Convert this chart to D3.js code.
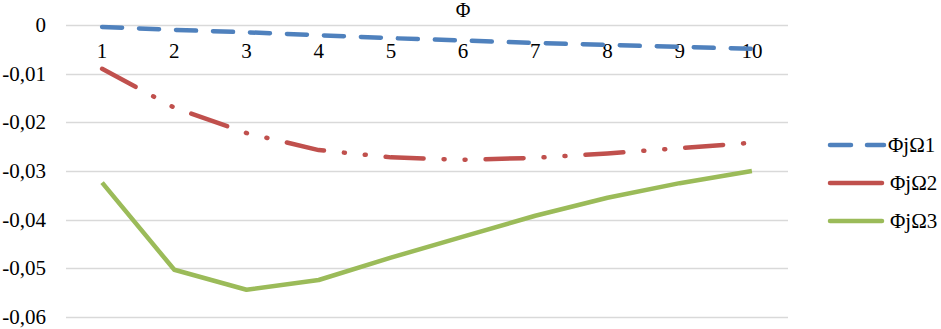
<!DOCTYPE html>
<html>
<head>
	<meta charset="UTF-8">
	<title>Phi chart</title>
	<script src="https://d3js.org/d3.v7.min.js"></script>
</head>
<body style="margin:0">
	<svg></svg>
	<script>
		const categories = [1, 2, 3, 4, 5, 6, 7, 8, 9, 10]
		const phiJOmega1 = [-0.0004, -0.0010, -0.0015, -0.0021, -0.0027, -0.0032, -0.0037, -0.0041, -0.0045, -0.0049]
		const phiJOmega2 = [-0.0090, -0.0170, -0.0222, -0.0257, -0.0272, -0.0277, -0.0273, -0.0264, -0.0253, -0.0242]
		const phiJOmega3 = [-0.0324, -0.0503, -0.0544, -0.0524, -0.0478, -0.0435, -0.0392, -0.0355, -0.0325, -0.0300]
		const yTicks = [0, -0.01, -0.02, -0.03, -0.04, -0.05, -0.06]

		const seriesList = [
			{ name: 'ΦjΩ1', values: phiJOmega1, color: '#4f81bd', dash: '20 17', legendDash: '21 16' },
			{ name: 'ΦjΩ2', values: phiJOmega2, color: '#c0504d', dash: '38 20 1 20 1 20', legendDash: null },
			{ name: 'ΦjΩ3', values: phiJOmega3, color: '#9bbb59', dash: null, legendDash: null }
		]

		const svg = d3.select('svg')
			.attr('width', 941)
			.attr('height', 329)
			.attr('font-family', 'Liberation Serif')
			.style('font-family', '"Liberation Serif"')

		const x = d3.scaleBand()
			.domain(categories)
			.range([66, 788])

		const y = d3.scaleLinear()
			.domain([-0.06, 0])
			.range([317, 25])

		const locale = d3.formatLocale({ decimal: ',', thousands: ' ', grouping: [3], currency: ['', ''], minus: '-' })
		const fmt = d => d === 0 ? '0' : locale.format('.2f')(d)

		// gridlines
		svg.append('g')
			.selectAll('line')
			.data(yTicks)
			.join('line')
			.attr('x1', 66)
			.attr('x2', 788)
			.attr('y1', d => Math.round(y(d)) + 0.5)
			.attr('y2', d => Math.round(y(d)) + 0.5)
			.attr('stroke', '#d9d9d9')
			.attr('stroke-width', 1.5)

		// y labels
		svg.append('g')
			.selectAll('text')
			.data(yTicks)
			.join('text')
			.attr('x', 46)
			.attr('y', d => y(d) + 7)
			.attr('text-anchor', 'end')
			.attr('font-size', 21)
			.text(fmt)

		// x labels (sit under the zero line)
		svg.append('g')
			.selectAll('text')
			.data(categories)
			.join('text')
			.attr('x', d => x(d) + x.bandwidth() / 2)
			.attr('y', y(0) + 33)
			.attr('text-anchor', 'middle')
			.attr('font-size', 21)
			.text(d => d)

		// axis title
		svg.append('text')
			.attr('x', x(6) + x.bandwidth() / 2)
			.attr('y', 17)
			.attr('text-anchor', 'middle')
			.attr('font-size', 20)
			.text('Φ')

		const line = d3.line()
			.x((d, i) => x(categories[i]) + x.bandwidth() / 2)
			.y(d => y(d))

		svg.append('g')
			.selectAll('path')
			.data(seriesList)
			.join('path')
			.attr('d', d => line(d.values))
			.attr('fill', 'none')
			.attr('stroke', d => d.color)
			.attr('stroke-width', 4.5)
			.attr('stroke-linecap', d => d.dash ? 'round' : 'butt')
			.attr('stroke-linejoin', 'round')
			.attr('stroke-dasharray', d => d.dash)

		// legend
		const legend = svg.append('g')
			.selectAll('g')
			.data(seriesList)
			.join('g')
			.attr('transform', (d, i) => `translate(828, ${145 + i * 38})`)

		legend.append('line')
			.attr('x1', 2)
			.attr('x2', d => d.legendDash ? 56 : 54)
			.attr('stroke', d => d.color)
			.attr('stroke-width', 4.5)
			.attr('stroke-linecap', 'round')
			.attr('stroke-dasharray', d => d.legendDash)

		legend.append('text')
			.attr('x', d => d.legendDash ? 60 : 62)
			.attr('y', 7)
			.attr('font-size', 21)
			.text(d => d.name)
	</script>
</body>
</html>
